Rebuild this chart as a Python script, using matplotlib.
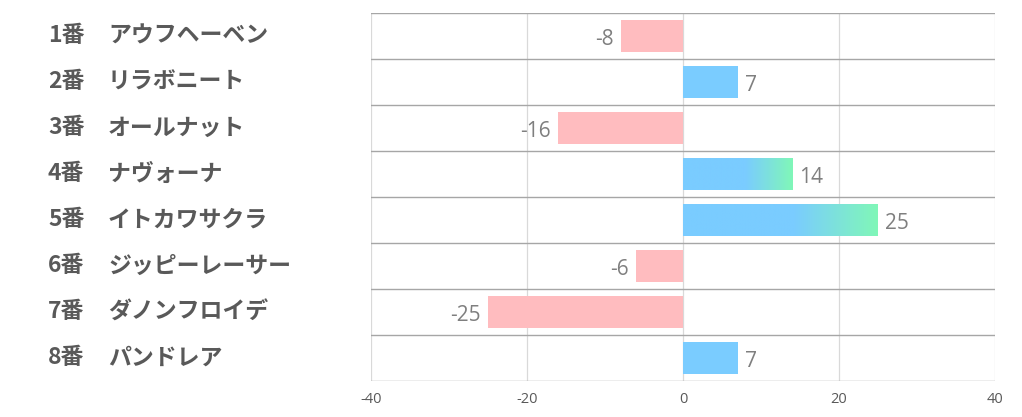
import numpy as np
import matplotlib.pyplot as plt
from matplotlib.colors import to_rgb

plt.rcParams['font.family'] = ['Noto Sans CJK JP', 'DejaVu Sans']

nums = ["1番", "2番", "3番", "4番", "5番", "6番", "7番", "8番"]
names = ["アウフヘーベン", "リラボニート", "オールナット", "ナヴォーナ",
         "イトカワサクラ", "ジッピーレーサー", "ダノンフロイデ", "パンドレア"]
values = [-8, 7, -16, 14, 25, -6, -25, 7]

pink = "#ffbcbf"
blue = "#7accff"
green = "#80f7b8"
h = 0.68

fig = plt.figure(figsize=(10.22, 4.17), dpi=100)
ax = fig.add_axes([371/1022, 1-381/417, 624/1022, 368/417])

for x in [-40, -20, 0, 20, 40]:
    ax.axvline(x, color="#d9d9d9", lw=0.9, zorder=0)
for yb in np.arange(-0.5, len(values), 1):
    ax.axhline(yb, color="#a6a6a6", lw=1.0, zorder=1)

b1, b2 = np.array(to_rgb(blue)), np.array(to_rgb(green))
for i, v in enumerate(values):
    if v < 0:
        ax.barh(i, v, height=h, color=pink, zorder=2)
        ax.text(v - 0.9, i + 0.07, str(v), ha="right", va="center",
                fontsize=15, color="#7f7f7f", family="Open Sans")
    else:
        if v >= 10:
            # gradient bar, blue fading into green toward the end
            t = np.linspace(0, 1, 200)
            start = 0.57
            f = np.clip((t - start) / (1 - start), 0, 1)
            cols = b1[None, :] * (1 - f[:, None]) + b2[None, :] * f[:, None]
            ax.imshow(cols[None, :, :], extent=[0, v, i + h/2, i - h/2],
                      aspect="auto", zorder=2, interpolation="bilinear")
        else:
            ax.barh(i, v, height=h, color=blue, zorder=2)
        ax.text(v + 0.9, i + 0.07, str(v), ha="left", va="center",
                fontsize=15, color="#7f7f7f", family="Open Sans")

ax.set_xlim(-40, 40)
ax.set_ylim(len(values)-0.5, -0.5)
ax.set_xticks([-40, -20, 0, 20, 40])
ax.set_xticklabels(["-40", "-20", "0", "20", "40"], fontsize=10.5, color="#595959",
                   family="Open Sans")
ax.tick_params(axis="x", length=0, pad=8)
ax.set_yticks([])
for s in ax.spines.values():
    s.set_visible(False)

trans = ax.get_yaxis_transform()
for i, (a, b) in enumerate(zip(nums, names)):
    ax.text(-(371-48)/624, i, a, transform=trans, ha="left", va="center",
            fontsize=16.5, fontweight="bold", color="#595959")
    ax.text(-(371-108)/624, i, b, transform=trans, ha="left", va="center",
            fontsize=16.5, fontweight="bold", color="#595959")

plt.savefig("out.png", dpi=100)
